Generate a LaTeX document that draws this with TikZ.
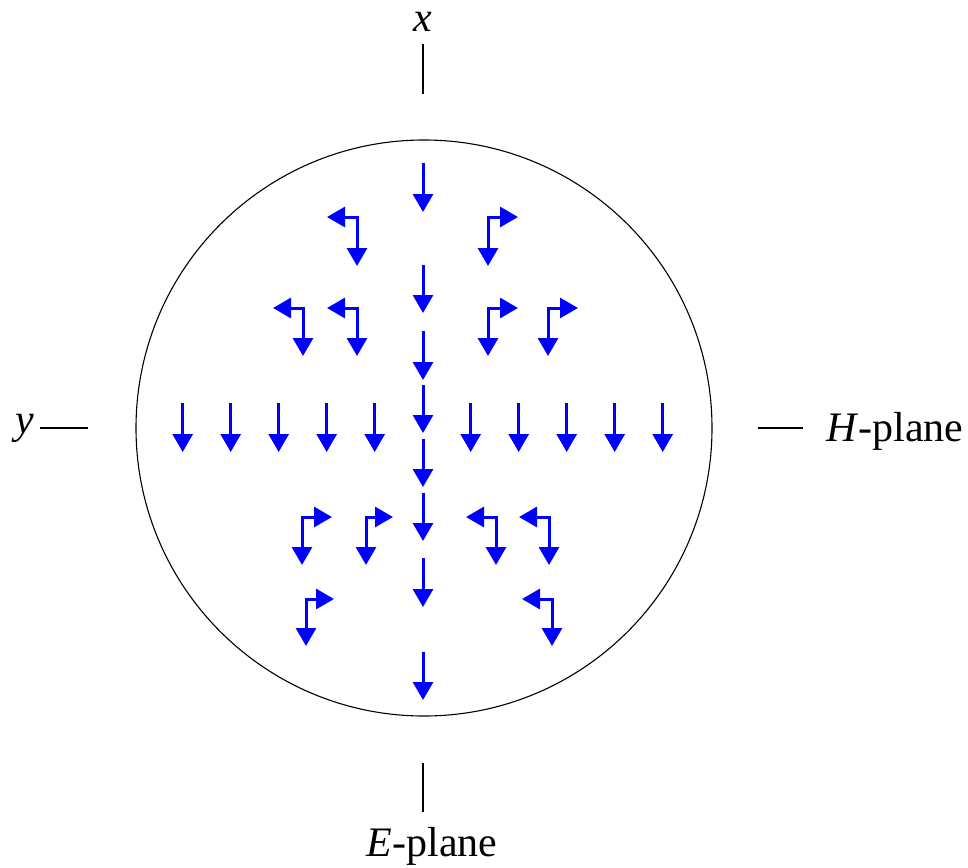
\documentclass[tikz,border=0pt]{standalone}
\usepackage{fontspec}
\setmainfont{Liberation Serif}
\usetikzlibrary{arrows.meta}
\begin{document}
\begin{tikzpicture}[x=1pt,y=-1pt,
  fa/.style={draw=blue,line width=3pt,{Triangle[length=18pt,width=20pt]}-{Triangle[length=18pt,width=20pt]}},
  fd/.style={draw=blue,line width=3pt,-{Triangle[length=18pt,width=20pt]}},
  axl/.style={draw=black,line width=1.3pt},
  lbl/.style={inner sep=0pt,font=\fontsize{42}{50}\selectfont}]
\useasboundingbox (0,0) rectangle (968,867);
\draw[line width=1.1pt] (424,428) circle[radius=288];
% axis markers and labels
\coordinate (xt) at (423,44); \coordinate (xb) at (423,94);
\draw[axl] (xt) -- (xb);
\node[lbl,anchor=base] (xl) at (423,32) {\textit{x}};
\coordinate (yl1) at (40,428); \coordinate (yl2) at (88,428);
\draw[axl] (yl1) -- (yl2);
\node[lbl,anchor=base east] (yl) at (34,433) {\textit{y}};
\coordinate (hl1) at (758,428); \coordinate (hl2) at (803,428);
\draw[axl] (hl1) -- (hl2);
\node[lbl,anchor=base west] (hp) at (826,441) {\textit{H}-plane};
\coordinate (el1) at (423,763); \coordinate (el2) at (423,812);
\draw[axl] (el1) -- (el2);
\node[lbl,anchor=base] (ep) at (432,856) {\textit{E}-plane};
% central column
\foreach \a/\b in {163/212,265/313,331/380,385/433,439/487,493/541,558/607,652/700}
  \draw[fd] (423,\a) -- (423,\b);
% horizontal row
\foreach \k in {0,...,4}{
  \draw[fd] ({182.7+48*\k},403) -- ({182.7+48*\k},452);
  \draw[fd] ({470.7+48*\k},403) -- ({470.7+48*\k},452);
}
% L-shaped arrows: corner x, corner y, horizontal tip x, vertical tip y
\foreach \cx/\cy/\hx/\vy in {357/217/327/266, 488/217/518/266,
  303/308/273/356, 357/308/327/356, 488/308/518/356, 548/308/578/356,
  302/517/332/565, 366/517/393/565, 496/517/466/565, 549/517/519/565,
  306/599/334/646, 552/599/522/646}
  \draw[fa] (\hx,\cy) -- (\cx,\cy) -- (\cx,\vy);
\end{tikzpicture}
\end{document}
